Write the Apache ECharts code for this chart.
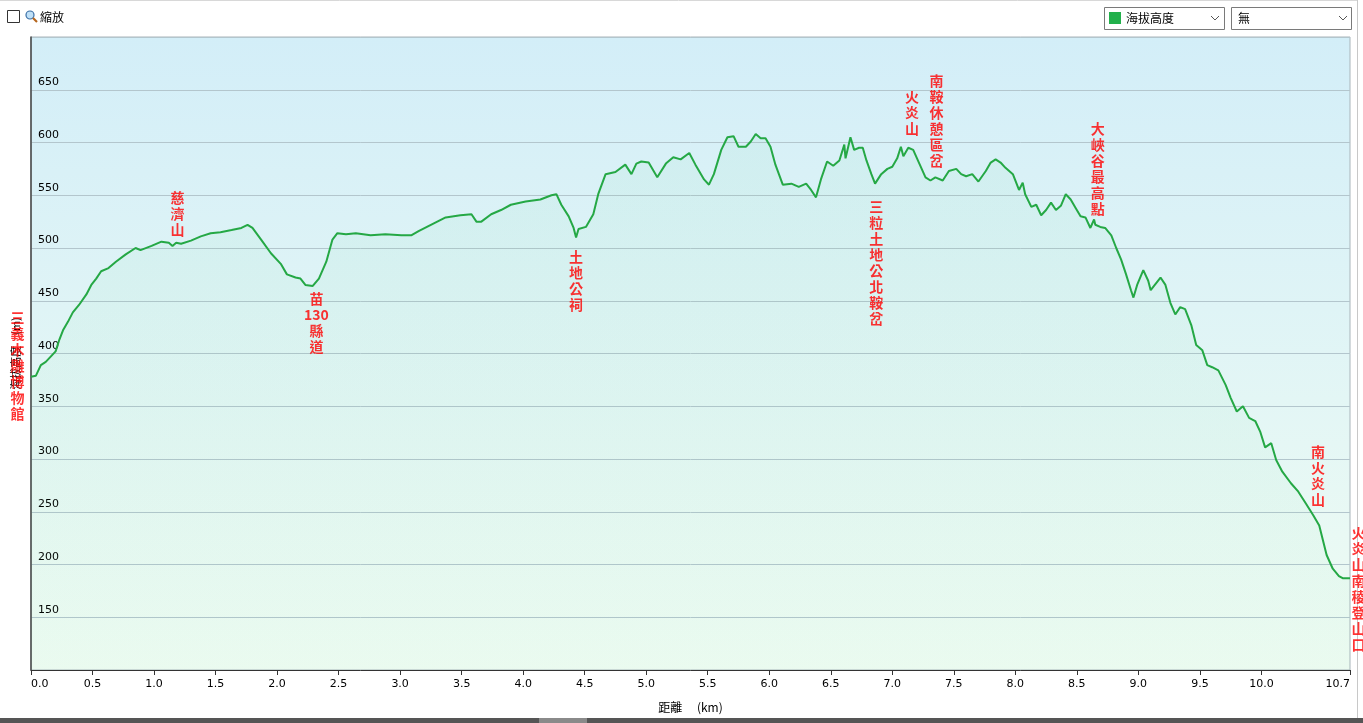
<!DOCTYPE html>
<html>
<head>
<meta charset="utf-8">
<script src="https://cdn.jsdelivr.net/npm/echarts@6/dist/echarts.min.js"></script>
<style>
html,body{margin:0;padding:0;background:#fff;}
#chart{width:1363px;height:723px;}
</style>
</head>
<body>
<div id="chart"></div>
<script>
// Elevation profile (distance km, elevation m)
const distKm = [0.0,0.04,0.08,0.12,0.16,0.20,0.23,0.26,0.30,0.34,0.39,0.45,0.49,0.53,0.57,0.63,0.69,0.77,0.85,0.89,0.98,1.06,1.12,1.15,1.18,1.22,1.30,1.38,1.46,1.54,1.63,1.71,1.76,1.80,1.87,1.95,2.03,2.08,2.15,2.19,2.23,2.29,2.34,2.40,2.45,2.49,2.56,2.64,2.76,2.88,3.01,3.09,3.15,3.25,3.37,3.49,3.58,3.62,3.66,3.74,3.82,3.90,4.02,4.14,4.23,4.27,4.31,4.37,4.41,4.43,4.45,4.51,4.57,4.61,4.67,4.75,4.83,4.88,4.92,4.96,5.02,5.09,5.16,5.22,5.28,5.35,5.40,5.47,5.51,5.55,5.61,5.66,5.71,5.75,5.81,5.85,5.89,5.93,5.97,6.01,6.05,6.11,6.18,6.24,6.30,6.34,6.38,6.42,6.47,6.52,6.57,6.61,6.62,6.66,6.69,6.73,6.76,6.79,6.83,6.86,6.91,6.96,7.00,7.04,7.07,7.09,7.13,7.17,7.22,7.27,7.31,7.35,7.41,7.46,7.52,7.56,7.60,7.65,7.70,7.76,7.80,7.84,7.88,7.92,7.98,8.03,8.06,8.08,8.13,8.17,8.21,8.25,8.29,8.33,8.37,8.41,8.45,8.49,8.53,8.57,8.61,8.64,8.65,8.69,8.73,8.78,8.82,8.86,8.90,8.94,8.96,8.99,9.04,9.08,9.10,9.14,9.18,9.22,9.26,9.30,9.34,9.38,9.43,9.47,9.52,9.56,9.60,9.65,9.71,9.75,9.80,9.85,9.90,9.95,9.99,10.03,10.08,10.12,10.17,10.24,10.30,10.36,10.42,10.47,10.50,10.53,10.58,10.63,10.66,10.72];
const elevM = [378,379,389,392,397,402,413,422,430,439,446,456,465,471,478,481,487,494,500,498,502,506,505,502,505,504,507,511,514,515,517,519,522,519,508,495,485,475,472,471,465,464,471,487,508,514,513,514,512,513,512,512,516,522,529,531,532,525,525,532,536,541,544,546,550,551,541,530,519,510,518,520,532,551,570,572,579,570,580,582,581,567,580,586,584,590,579,565,560,570,593,605,606,596,596,601,608,604,604,596,579,560,561,558,561,555,548,565,582,578,583,598,585,605,593,595,595,583,570,561,570,575,577,585,596,587,595,593,580,567,564,567,564,573,575,570,568,570,563,573,581,584,581,576,570,555,562,551,539,541,531,536,543,536,540,551,546,538,530,529,519,527,522,520,519,512,500,489,475,460,453,465,479,469,460,466,472,465,448,437,444,442,427,408,403,389,387,384,370,358,345,350,339,336,326,311,315,299,288,277,269,258,247,237,223,209,196,189,187,187];

// Waypoints
const wpNames = ['三義木雕博物館','慈濟山','苗130縣道','土地公祠','三粒土地公北鞍岔','火炎山','南鞍休憩區岔','大峽谷最高點','南火炎山','火炎山南稜登山口'];
const wpKm    = [0.0, 1.19, 2.32, 4.43, 6.87, 7.16, 7.36, 8.67, 10.46, 10.72];
const wpElev  = [388, 505, 465, 505, 552, 600, 570, 524, 249, 177];
const wpSide  = ['left','top','bottom','bottom','bottom','top','top','top','top','right'];

// Axis ticks
const xTicks = [0,0.5,1,1.5,2,2.5,3,3.5,4,4.5,5,5.5,6,6.5,7,7.5,8,8.5,9,9.5,10,10.72];
const yMin = 100, yMax = 700, yStep = 50;

const chart = echarts.init(document.getElementById('chart'));

function vert(name){
  return name.match(/[0-9]+|./g).join('\n');
}
const sideDist = {left:13, right:8, top:5, bottom:5};

const profile = distKm.map((d,i)=>[d, elevM[i]]);
const wps = wpNames.map((n,i)=>({
  value:[wpKm[i], wpElev[i]],
  label:{position:wpSide[i], distance:sideDist[wpSide[i]], formatter: vert(n)}
}));

const option = {
  animation:false,
  backgroundColor:'#fff',
  grid:{left:31,right:13,top:37,bottom:53,show:true,borderColor:'#a8b4ba',borderWidth:1,
    backgroundColor:{type:'linear',x:0,y:0,x2:0,y2:1,colorStops:[{offset:0,color:'#d3eef8'},{offset:1,color:'#effcf3'}]}},
  xAxis:{type:'value',min:0,max:10.72,
    name:'距離　 (km)',nameLocation:'middle',nameGap:31,
    nameTextStyle:{color:'#000',fontSize:12,fontFamily:'Noto Sans CJK TC'},
    axisLine:{show:true,lineStyle:{color:'#333',width:1}},
    axisTick:{show:true,length:5,lineStyle:{color:'#333'},customValues:xTicks},
    axisLabel:{color:'#000',fontSize:11,fontFamily:'DejaVu Sans',margin:9,customValues:xTicks,
      alignMinLabel:'left',alignMaxLabel:'right',
      formatter:v=>v.toFixed(1)},
    splitLine:{show:false}},
  yAxis:{type:'value',min:yMin,max:yMax,interval:yStep,
    name:'海拔高度　(m)',nameLocation:'middle',nameRotate:90,nameGap:10,
    nameTextStyle:{color:'#000',fontSize:11,fontFamily:'Noto Sans CJK TC'},
    axisLine:{show:true,lineStyle:{color:'#444',width:1.5}},
    axisTick:{show:false},
    axisLabel:{inside:true,margin:7,color:'#000',fontSize:11,fontFamily:'DejaVu Sans',
      verticalAlign:'bottom',padding:[0,0,2,0],showMinLabel:false,showMaxLabel:false},
    splitLine:{show:true,lineStyle:{color:'#b3c6cd',width:1}}},
  series:[
    {type:'line',data:profile,showSymbol:false,symbol:'none',
      lineStyle:{color:'#25a845',width:2},
      areaStyle:{origin:'start',color:{type:'linear',x:0,y:0,x2:0,y2:1,colorStops:[{offset:0,color:'rgba(60,200,110,0.07)'},{offset:1,color:'rgba(60,200,110,0.04)'}]}},
      z:3},
    {type:'scatter',data:wps,symbol:'circle',symbolSize:1,itemStyle:{color:'rgba(0,0,0,0)'},
      label:{show:true,color:'#ff0000',fontSize:14,fontWeight:'bold',lineHeight:16,
        fontFamily:'Noto Sans CJK TC',align:'center'},
      labelLayout:{hideOverlap:false},
      z:5}
  ],
  graphic:[
    {type:'line',shape:{x1:0,y1:0.5,x2:1357,y2:0.5},style:{stroke:'#d8d8d8',lineWidth:1},silent:true},
    {type:'line',shape:{x1:1357.5,y1:0,x2:1357.5,y2:718},style:{stroke:'#c8c8c8',lineWidth:1},silent:true},
    {type:'rect',shape:{x:0,y:718,width:1363,height:5},style:{fill:'#555'},silent:true},
    {type:'rect',shape:{x:539,y:718,width:48,height:5},style:{fill:'#8a8a8a'},silent:true},
    {type:'rect',shape:{x:7.5,y:10.5,width:12,height:12},style:{fill:'#fff',stroke:'#333',lineWidth:1},silent:true},
    {type:'circle',shape:{cx:30,cy:15,r:4},style:{fill:'#bfe0f7',stroke:'#3a6ea5',lineWidth:1.2},silent:true},
    {type:'line',shape:{x1:33,y1:18,x2:37,y2:22},style:{stroke:'#b5651d',lineWidth:2.2},silent:true},
    {type:'text',x:40,y:17,style:{text:'縮放',fill:'#000',fontSize:12,fontFamily:'Noto Sans CJK TC',verticalAlign:'middle'},silent:true},
    {type:'rect',shape:{x:1104.5,y:7.5,width:120,height:22},style:{fill:'#fff',stroke:'#7a7a7a',lineWidth:1},silent:true},
    {type:'rect',shape:{x:1109,y:12,width:12,height:12},style:{fill:'#22b04b'},silent:true},
    {type:'text',x:1126,y:18,style:{text:'海拔高度',fill:'#000',fontSize:12,fontFamily:'Noto Sans CJK TC',verticalAlign:'middle'},silent:true},
    {type:'polyline',shape:{points:[[1211,16],[1215,20],[1219,16]]},style:{stroke:'#555',lineWidth:1,fill:null},silent:true},
    {type:'rect',shape:{x:1231.5,y:7.5,width:120,height:22},style:{fill:'#fff',stroke:'#7a7a7a',lineWidth:1},silent:true},
    {type:'text',x:1238,y:18,style:{text:'無',fill:'#000',fontSize:12,fontFamily:'Noto Sans CJK TC',verticalAlign:'middle'},silent:true},
    {type:'polyline',shape:{points:[[1339,16],[1343,20],[1347,16]]},style:{stroke:'#555',lineWidth:1,fill:null},silent:true}
  ]
};
chart.setOption(option);
</script>
</body>
</html>
